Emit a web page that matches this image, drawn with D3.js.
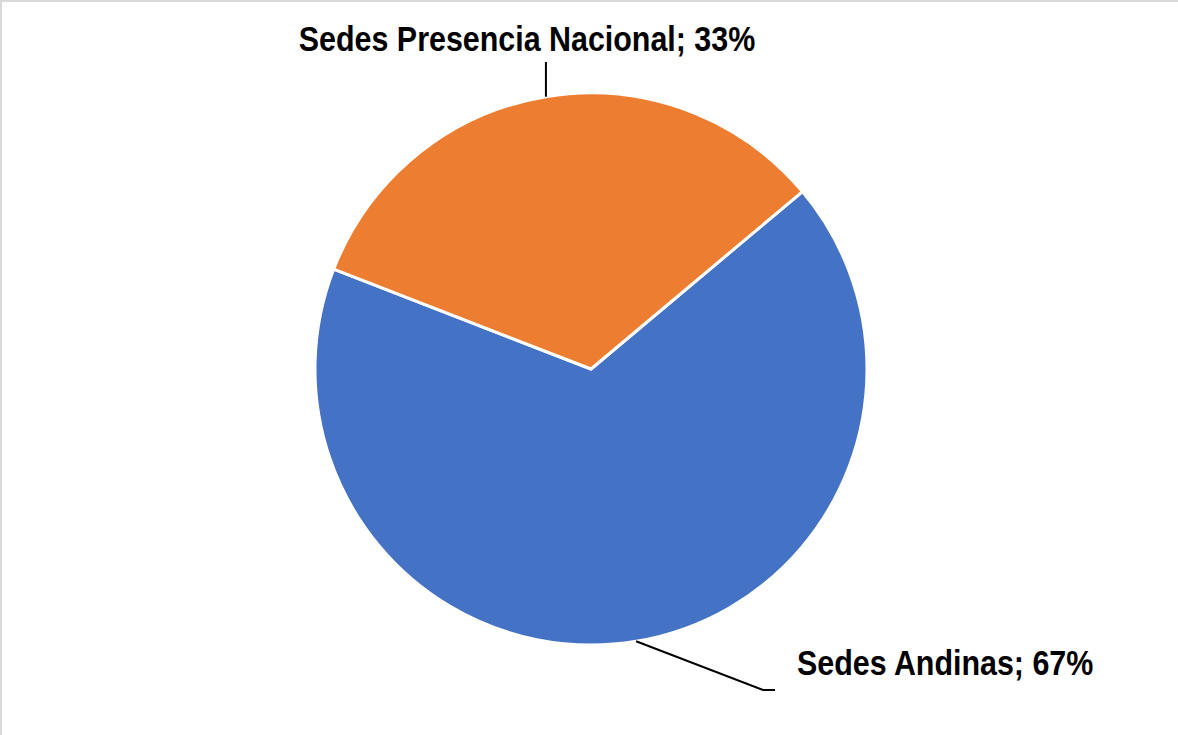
<!DOCTYPE html>
<html>
<head>
<meta charset="utf-8">
<title>Sedes</title>
<style>
  body { margin: 0; background: #fff; }
  svg { display: block; }
</style>
</head>
<body>
<script src="https://d3js.org/d3.v7.min.js"></script>
<script type="text/javascript">

// data
var categories = ["Sedes Andinas", "Sedes Presencia Nacional"];
var values = [67, 33];
var colors = ["#4472C4", "#ED7D31"];

var width = 1178, height = 735;
var cx = 591, cy = 369, radius = 276;

var svg = d3.select("body").append("svg")
    .attr("width", width)
    .attr("height", height);

// light frame, only top and left show in the window
svg.append("rect")
    .attr("x", 1).attr("y", 1)
    .attr("width", width + 10).attr("height", height + 10)
    .attr("fill", "none")
    .attr("stroke", "#d9d9d9")
    .attr("stroke-width", 2);

var data = categories.map(function(c, i) { return { name: c, value: values[i], color: colors[i] }; });

var pie = d3.pie()
    .sort(null)
    .value(function(d) { return d.value; })
    .startAngle(50 * Math.PI / 180)
    .endAngle(410 * Math.PI / 180);

var arc = d3.arc().innerRadius(0).outerRadius(radius);

var chart = svg.append("g")
    .attr("transform", "translate(" + cx + "," + cy + ")");

var arcs = pie(data);

chart.selectAll("path")
    .data(arcs)
    .enter().append("path")
    .attr("d", arc)
    .attr("fill", function(d) { return d.data.color; })
    .attr("stroke", "#fff")
    .attr("stroke-width", 3)
    .attr("stroke-linejoin", "round");

function edgePoint(d) {
    var a = (d.startAngle + d.endAngle) / 2;
    return [radius * Math.sin(a), -radius * Math.cos(a)];
}

// labels: leader line bend/end and text spot (relative to centre)
var labelPos = [
    { bend: function(p) { return [172, 321]; }, end: [184, 321], tx: 206, ty: 306, anchor: "start" },
    { bend: function(p) { return [p[0], -307]; }, end: null, tx: -64, ty: -318, anchor: "middle" }
];

arcs.forEach(function(d, i) {
    var p = edgePoint(d), L = labelPos[i];
    var b = L.bend(p);
    var pts = [p, b];
    if (L.end) pts.push(L.end);
    chart.append("polyline")
        .attr("points", pts.map(function(q) { return q.join(","); }).join(" "))
        .attr("fill", "none")
        .attr("stroke", "#000")
        .attr("stroke-width", 2);

    chart.append("text")
        .attr("transform", "translate(" + L.tx + "," + L.ty + ") scale(0.845,1)")
        .attr("text-anchor", L.anchor)
        .attr("font-family", "'Liberation Sans Narrow', 'Arial Narrow', 'Liberation Sans', Arial, sans-serif")
        .attr("font-weight", "bold")
        .attr("font-size", "36px")
        .attr("fill", "#000")
        .text(d.data.name + "; " + d.data.value + "%");
});

</script>
</body>
</html>
